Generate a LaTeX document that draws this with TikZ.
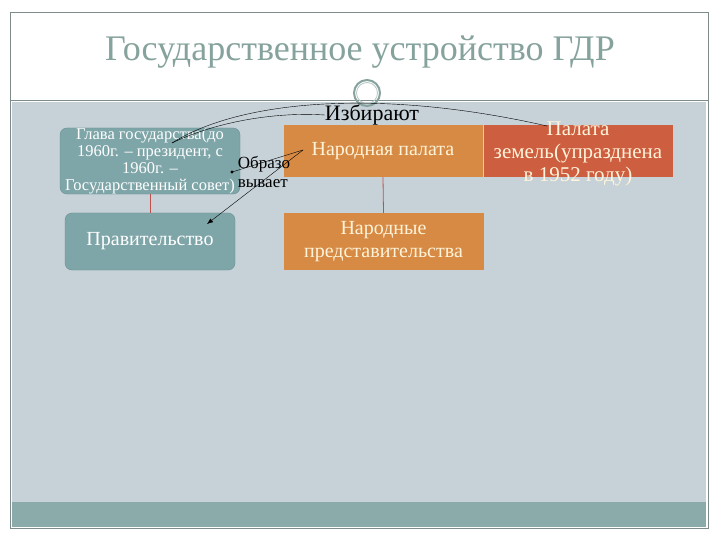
\documentclass[tikz,border=0pt]{standalone}
\usepackage{fontspec}
\setmainfont{Liberation Serif}
\usetikzlibrary{arrows.meta}

\definecolor{panel}{HTML}{C6D1D8}
\definecolor{frame}{HTML}{7F8C8C}
\definecolor{tealbox}{HTML}{7EA5A8}
\definecolor{tealedge}{HTML}{6A9094}
\definecolor{orangebox}{HTML}{D68A44}
\definecolor{redbox}{HTML}{CD5E40}
\definecolor{titlegray}{HTML}{86A29D}
\definecolor{bar}{HTML}{8AABAA}
\definecolor{cream}{HTML}{FFF4DA}
\definecolor{link}{HTML}{C0504D}

\tikzset{
  headbox/.style={draw=tealedge, fill=tealbox, rounded corners=7pt, text=white,
    align=center, inner sep=0pt, font=\fontsize{16.5}{17}\selectfont},
  chamber/.style={fill=#1, text=cream, align=center, inner sep=0pt,
    font=\fontsize{20}{23}\selectfont},
  note/.style={text=black, align=left, inner sep=0pt}
}

\begin{document}
\begin{tikzpicture}[x=1pt, y=-1pt]
\useasboundingbox (0,0) rectangle (720,540);

% slide
\fill [white] (10,12) rectangle (708,528);
\fill [panel] (12,102) rectangle (706,502);
\fill [bar] (12,502) rectangle (706,527);
\draw [frame] (10,12) rectangle (708,528);
\draw [frame] (10,100) -- (708,100);
\node [text=titlegray, font=\fontsize{36}{40}\selectfont] (title) at (360,52)
  {Государственное устройство ГДР};
\draw [titlegray, line width=2pt] (367,93) circle (13);
\draw [titlegray!60, line width=0.8pt] (367,93) circle (10.5);

% boxes
\node [headbox, minimum width=180, minimum height=66] (head) at (150,161)
  {Глава государства(до\\1960г. – президент, с\\1960г. –\\Государственный совет)};
\node [headbox, minimum width=170, minimum height=57, font=\fontsize{20}{23}\selectfont] (gov) at (150,241.5)
  {Правительство};
\node [chamber=orangebox, minimum width=199, minimum height=52] (volk) at (383,151)
  {Народная палата};
\node [chamber=redbox, minimum width=189, minimum height=52] (land) at (578,151) {};
\node [text=cream, align=center, inner sep=0pt, font=\fontsize{21}{23}\selectfont] (landtext) at (578,154)
  {Палата\\земель(упразднена\\в 1952 году)};
\node [chamber=orangebox, minimum width=200, minimum height=57] (local) at (383.5,241.5)
  {Народные\\представительства};

% links
\draw [link, thick] (head.south) -- (gov.north);
\draw [link, thick] (volk.south) -- (local.north);

% labels
\node [note, font=\fontsize{22}{24}\selectfont] (elect) at (372,115) {Избирают};
\node [note, font=\fontsize{17}{19}\selectfont] (form) at (264,172) {Образо\\вывает};

\coordinate (headin) at (172,143);
\coordinate (volkin) at (303,150);
\coordinate (landin) at (547,126);
\coordinate (formout) at (232,172);
\coordinate (govin) at (207,224);
\draw (headin) .. controls (240,100) and (380,88) .. (landin);
\draw (headin) .. controls (220,120) and (280,112) .. (elect.west);
\fill (formout) circle (1.6);
\draw (formout) -- (volkin);
\draw [-{Latex[length=6pt]}] (volkin) -- (govin);
\end{tikzpicture}
\end{document}
